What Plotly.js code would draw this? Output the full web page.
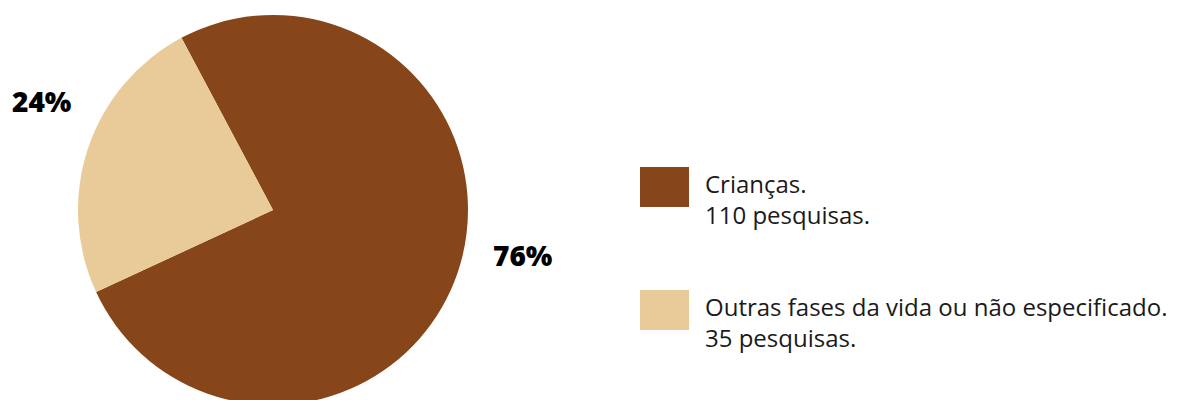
<!DOCTYPE html>
<html>
<head>
<meta charset="utf-8">
<script src="https://cdn.plot.ly/plotly-3.0.1.min.js"></script>
<style>
html,body{margin:0;padding:0;overflow:hidden;background:#fff;}
#chart{width:1177px;height:410px;}
</style>
</head>
<body>
<div id="chart"></div>
<script>
const categories = ["Crianças.", "Outras fases da vida ou não especificado."];
const values = [110, 35];
const legendDetails = ["110 pesquisas.", "35 pesquisas."];
const colors = ["#86461A", "#E9CB99"];

const W = 1177, H = 410;
const cx = 273, cy = 210, R = 195;
const total = values.reduce((a, b) => a + b, 0);
const pct = values.map(v => Math.round(v / total * 100) + "%");

const trace = {
  type: "pie",
  values: values,
  labels: categories,
  sort: false,
  direction: "clockwise",
  rotation: -28,
  marker: {colors: colors, line: {width: 0}},
  textinfo: "none",
  hoverinfo: "label+value+percent",
  showlegend: false,
  domain: {x: [(cx - R) / W, (cx + R) / W], y: [(H - (cy + R)) / H, (H - (cy - R)) / H]}
};

const labelPos = [[523, 255], [42, 101]];
const annotations = [];
pct.forEach((p, i) => {
  annotations.push({
    xref: "paper", yref: "paper",
    x: labelPos[i][0] / W, y: (H - labelPos[i][1]) / H,
    xanchor: "center", yanchor: "middle",
    text: p, showarrow: false,
    font: {family: "Open Sans, sans-serif", size: 28, weight: 800, color: "#000"}
  });
});

const shapes = [];
const legTop = [167, 290];
categories.forEach((c, i) => {
  shapes.push({
    type: "rect", xref: "paper", yref: "paper",
    x0: 640 / W, x1: 689 / W,
    y0: (H - (legTop[i] + 40)) / H, y1: (H - legTop[i]) / H,
    fillcolor: colors[i], line: {width: 0}
  });
  annotations.push({
    xref: "paper", yref: "paper",
    x: 703 / W, y: (H - (legTop[i] + 32)) / H,
    xanchor: "left", yanchor: "middle", align: "left",
    text: c + "<br>" + legendDetails[i], showarrow: false,
    font: {family: "Open Sans, sans-serif", size: 24, color: "#1a1a1a"}
  });
});

const layout = {
  width: W, height: H,
  margin: {l: 0, r: 0, t: 0, b: 0},
  paper_bgcolor: "#fff",
  showlegend: false,
  annotations: annotations,
  shapes: shapes
};

Plotly.newPlot("chart", [trace], layout, {displayModeBar: false, staticPlot: true});
</script>
</body>
</html>
